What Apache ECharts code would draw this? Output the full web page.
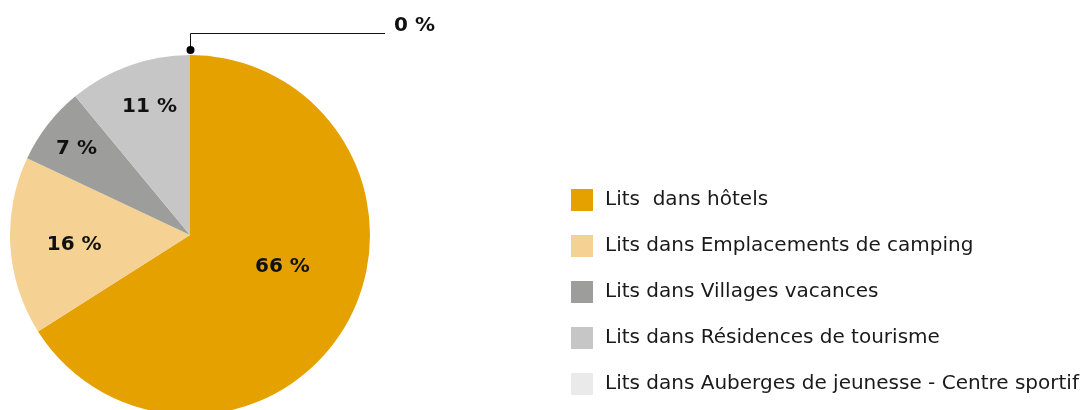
<!DOCTYPE html>
<html>
<head>
<meta charset="utf-8">
<script src="https://cdn.jsdelivr.net/npm/echarts@6/dist/echarts.min.js"></script>
<style>
  html, body { margin: 0; padding: 0; background: #fff; }
  #chart { width: 1088px; height: 410px; }
</style>
</head>
<body>
<div id="chart"></div>
<script>
// categories and values (percent of beds)
const categories = [
  'Lits  dans hôtels',
  'Lits dans Emplacements de camping',
  'Lits dans Villages vacances',
  'Lits dans Résidences de tourisme',
  'Lits dans Auberges de jeunesse - Centre sportif'
];
const values = [66, 16, 7, 11, 0];
const colors = ['#E5A100', '#F5D193', '#9D9D9C', '#C6C6C6', '#EAEAEA'];
// label nudges for inside labels
const labelOffsets = [[11, -13], [-23, 4], [-40, -29], [-9, -41], [0, 0]];

const CX = 190, CY = 235, R = 180;
const FONT = 'DejaVu Sans';

const chart = echarts.init(document.getElementById('chart'));

const data = categories.map((name, i) => {
  const item = {
    name: name,
    value: values[i],
    itemStyle: { color: colors[i] },
    label: { offset: labelOffsets[i] }
  };
  if (i === 4) {
    item.label = { position: 'outside' };
    item.labelLine = { show: true };
  }
  return item;
});

const option = {
  animation: false,
  legend: {
    orient: 'vertical',
    left: 566,
    top: 184,
    itemWidth: 22,
    itemHeight: 22,
    itemGap: 24,
    icon: 'rect',
    textStyle: { fontFamily: FONT, fontSize: 20, color: '#1a1a1a', padding: [0, 0, 0, 7] },
    selectedMode: false,
    data: categories
  },
  graphic: [{
    type: 'circle',
    shape: { cx: CX + 0.5, cy: CY - R - 5, r: 4 },
    style: { fill: '#000' },
    z: 10
  }],
  series: [{
    type: 'pie',
    center: [CX, CY],
    radius: [0, R],
    startAngle: 90,
    clockwise: true,
    silent: true,
    label: {
      show: true,
      position: 'inside',
      fontFamily: FONT,
      fontSize: 20,
      fontWeight: 'bold',
      color: '#111',
      formatter: p => Math.round(p.value) + ' %'
    },
    labelLine: {
      show: false,
      lineStyle: { color: '#111', width: 1 }
    },
    labelLayout: function (p) {
      if (p.dataIndex !== 4) return {};
      const ly = CY - R - 21.5, lx = CX + 0.5;
      return {
        x: CX + 204,
        y: CY - R - 29,
        align: 'left',
        verticalAlign: 'middle',
        labelLinePoints: [[lx, CY - R - 5], [lx, ly], [CX + 195, ly]]
      };
    },
    data: data
  }]
};

chart.setOption(option);
</script>
</body>
</html>
